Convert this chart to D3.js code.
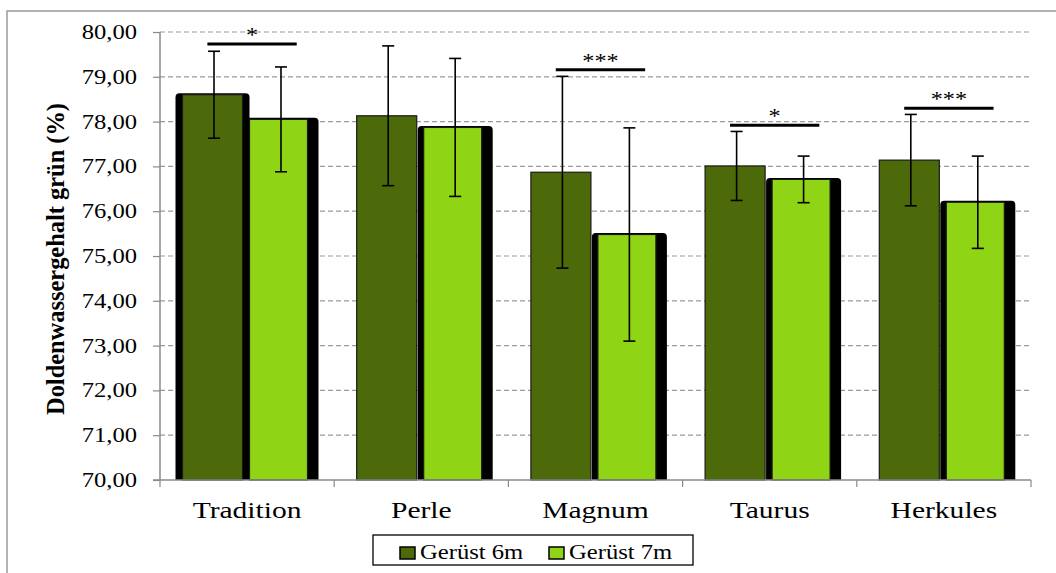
<!DOCTYPE html>
<html>
<head>
<meta charset="utf-8">
<script src="https://cdn.jsdelivr.net/npm/d3@7"></script>
<style>
  html, body { margin: 0; padding: 0; background: #fff; }
  svg { display: block; }
  text { font-family: "Liberation Serif", "Times New Roman", serif; fill: #000; }
</style>
</head>
<body>
<svg id="chart" width="1056" height="573"></svg>
<script>
// ---- data ----
const categories = ["Tradition", "Perle", "Magnum", "Taurus", "Herkules"];
const seriesNames = ["Gerüst 6m", "Gerüst 7m"];
const values6m = [78.60, 78.13, 76.87, 77.01, 77.14];
const values7m = [78.05, 77.87, 75.48, 76.71, 76.20];
const sd6m = [0.97, 1.56, 2.14, 0.77, 1.02];
const sd7m = [1.17, 1.54, 2.38, 0.52, 1.03];
const sigLabels = ["*", "", "***", "*", "***"];
const sigLevels = [79.73, null, 79.16, 77.92, 78.30];
const yTicks = [70, 71, 72, 73, 74, 75, 76, 77, 78, 79, 80];
const yTitle = "Doldenwassergehalt grün (%)";

// ---- layout ----
const colors = ["#4d6a0b", "#8fd415"];
const K = 1.23; // horizontal text stretch of the original
const plot = { left: 160, right: 1031, top: 32, bottom: 480 };

const svg = d3.select("#chart");

function stretch(sel, k) {
  sel.each(function () {
    const w = this.getComputedTextLength();
    this.setAttribute("textLength", w * k);
    this.setAttribute("lengthAdjust", "spacingAndGlyphs");
  });
}

const y = d3.scaleLinear().domain([70, 80]).range([plot.bottom, plot.top]);
const x0 = d3.scaleBand().domain(categories).range([plot.left, plot.right]);
const x1 = d3.scaleBand().domain(seriesNames).range([22.5, 149.5]).paddingInner(0.104);
const bw = x1.bandwidth();

// outer frame (left + top)
svg.append("path")
  .attr("d", "M7,573 V11 H1056")
  .attr("fill", "none").attr("stroke", "#9a9a9a").attr("stroke-width", 1.5);

// gridlines
svg.append("g").selectAll("line").data(yTicks.filter(t => t > 70)).join("line")
  .attr("x1", plot.left).attr("x2", plot.right)
  .attr("y1", d => y(d)).attr("y2", d => y(d))
  .attr("stroke", "#9a9a9a").attr("stroke-width", 1.2).attr("stroke-dasharray", "5,3");

// bars
const rows = categories.map((c, i) => ({
  cat: c, i,
  items: [
    { s: seriesNames[0], v: values6m[i], sd: sd6m[i], k: 0 },
    { s: seriesNames[1], v: values7m[i], sd: sd7m[i], k: 1 }
  ]
}));

function framePath(x, top, w, bottom, r) {
  return `M${x},${bottom} V${top + r} Q${x},${top} ${x + r},${top} H${x + w - r} Q${x + w},${top} ${x + w},${top + r} V${bottom} Z`;
}

const gBars = svg.append("g");
rows.forEach(row => {
  const gx = x0(row.cat);
  row.items.forEach(it => {
    const bx = gx + x1(it.s);
    const top = y(it.v);
    const framed = it.k === 1 || row.i === 0;
    if (framed) {
      const fl = it.k === 1 ? 6 : 7, fr = it.k === 1 ? 9 : 7;
      gBars.append("path")
        .attr("d", framePath(bx - fl, top - 1.5, bw + fl + fr, y(70), 4))
        .attr("fill", "#000");
    }
    gBars.append("rect")
      .attr("x", bx).attr("y", top)
      .attr("width", it.k === 1 ? bw - 2 : bw)
      .attr("height", y(70) - top)
      .attr("fill", colors[it.k])
      .attr("stroke", "#1a1a1a").attr("stroke-width", 1.2);
  });
});

// y axis
const yAxis = svg.append("g")
  .attr("transform", `translate(${plot.left},0)`)
  .call(d3.axisLeft(y).tickValues(yTicks).tickSize(7).tickPadding(16)
    .tickFormat(d => d.toFixed(2).replace(".", ",")));
yAxis.select(".domain").attr("stroke", "#8a8a8a").attr("stroke-width", 1.5)
  .attr("d", `M0,${plot.top}V${plot.bottom}`);
yAxis.selectAll(".tick line").attr("stroke", "#8a8a8a").attr("stroke-width", 1.2);
yAxis.selectAll(".tick text").attr("font-size", 20)
  .attr("font-family", "'Liberation Serif', serif").attr("fill", "#000");
stretch(yAxis.selectAll(".tick text"), K);

// x axis
const bounds = categories.map(c => x0(c)).concat([plot.right]);
svg.append("line")
  .attr("x1", plot.left - 7).attr("x2", plot.right)
  .attr("y1", y(70)).attr("y2", y(70))
  .attr("stroke", "#8a8a8a").attr("stroke-width", 1.5);
svg.append("g").selectAll("line").data(bounds).join("line")
  .attr("x1", d => d).attr("x2", d => d)
  .attr("y1", y(70)).attr("y2", y(70) + 7)
  .attr("stroke", "#8a8a8a").attr("stroke-width", 1.2);
const catText = svg.append("g").selectAll("text").data(categories).join("text")
  .attr("x", d => x0(d) + x0.bandwidth() / 2)
  .attr("y", y(70) + 38)
  .attr("text-anchor", "middle")
  .attr("font-size", 24)
  .text(d => d);
stretch(catText, K);

// error bars
const gErr = svg.append("g").attr("stroke", "#000").attr("stroke-width", 1.6);
rows.forEach(row => {
  row.items.forEach(it => {
    const cx = x0(row.cat) + x1(it.s) + bw / 2 + 1.5;
    const yt = y(it.v + it.sd), yb = y(it.v - it.sd);
    gErr.append("line").attr("x1", cx).attr("x2", cx).attr("y1", yt).attr("y2", yb);
    gErr.append("line").attr("x1", cx - 6).attr("x2", cx + 6).attr("y1", yt).attr("y2", yt);
    gErr.append("line").attr("x1", cx - 6).attr("x2", cx + 6).attr("y1", yb).attr("y2", yb);
  });
});

// significance marks
categories.forEach((c, i) => {
  if (sigLevels[i] == null) return;
  const xa = x0(c) + x0.bandwidth() * 0.272;
  const xb = x0(c) + x0.bandwidth() * 0.785;
  const yy = y(sigLevels[i]);
  svg.append("line").attr("x1", xa).attr("x2", xb).attr("y1", yy).attr("y2", yy)
    .attr("stroke", "#000").attr("stroke-width", 3);
  const t = svg.append("text").attr("x", (xa + xb) / 2).attr("y", yy - 2)
    .attr("text-anchor", "middle").attr("font-size", 22).text(sigLabels[i]);
  stretch(t, 1.1);
});

// y title
const yt = svg.append("text")
  .attr("transform", "translate(64,259) rotate(-90)")
  .attr("text-anchor", "middle")
  .attr("font-size", 25).attr("font-weight", "bold")
  .text(yTitle);
yt.attr("textLength", 312).attr("lengthAdjust", "spacingAndGlyphs");

// legend
const leg = svg.append("g");
leg.append("rect").attr("x", 373).attr("y", 535).attr("width", 320).attr("height", 30)
  .attr("fill", "#fff").attr("stroke", "#000").attr("stroke-width", 1.3);
seriesNames.forEach((s, i) => {
  const lx = 400 + i * 149;
  leg.append("rect").attr("x", lx).attr("y", 547).attr("width", 15).attr("height", 12)
    .attr("fill", colors[i]).attr("stroke", "#000").attr("stroke-width", 1.5);
  const t = leg.append("text").attr("x", lx + 20).attr("y", 559)
    .attr("font-size", 20).text(s);
  stretch(t, K);
});
</script>
</body>
</html>
